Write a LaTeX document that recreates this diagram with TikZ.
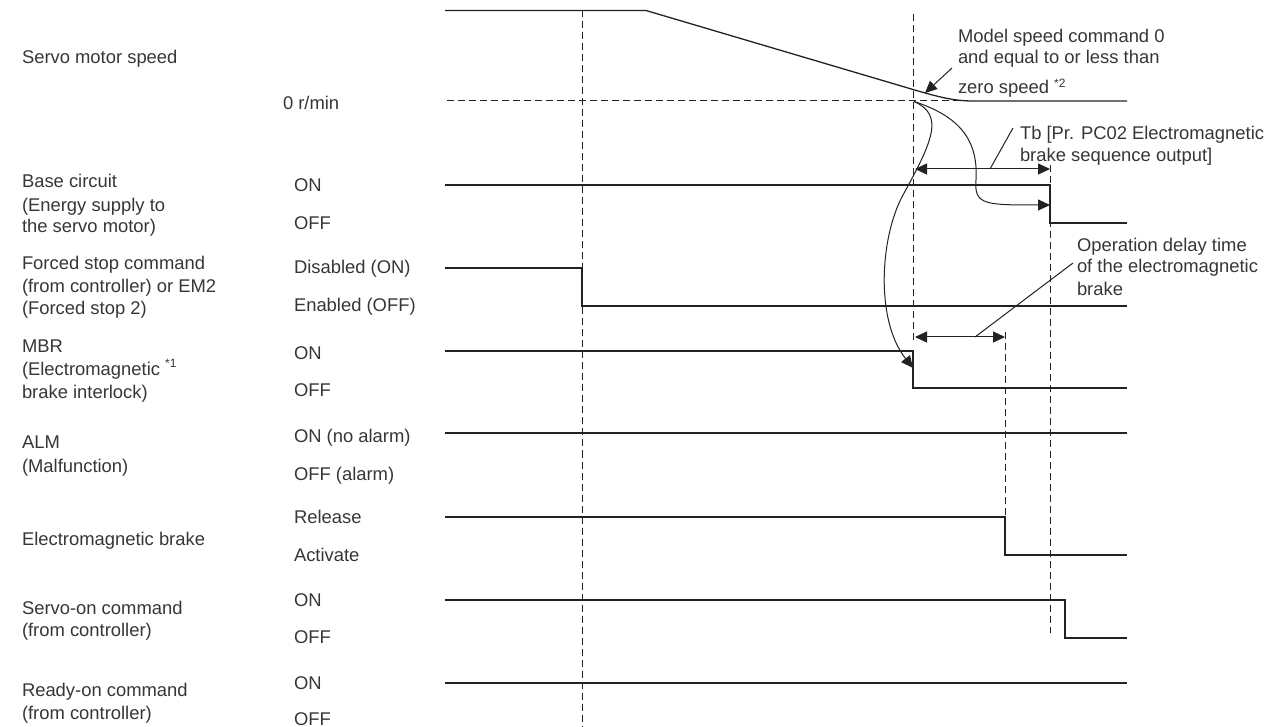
\documentclass[tikz,border=0pt]{standalone}
\usepackage{fontspec}
\setmainfont{Liberation Sans}
\usetikzlibrary{arrows.meta}
\definecolor{linec}{HTML}{222222}
\definecolor{textc}{HTML}{363636}
\begin{document}
\begin{tikzpicture}[x=1pt,y=-1pt,
  sig/.style={line width=1.3pt, draw=linec, line join=miter},
  guide/.style={line width=1pt, draw=linec, dash pattern=on 7pt off 4pt},
  lbl/.style={anchor=base west, inner sep=0pt, outer sep=0pt, text=textc, font=\fontsize{18.4}{22}\selectfont},
  lead/.style={line width=1pt, draw=linec},
  tipend/.style={-{Triangle[length=12pt,width=11pt]}},
  dtip/.style={{Triangle[length=12pt,width=11pt]}-{Triangle[length=12pt,width=11pt]}},
]
\useasboundingbox (0,0) rectangle (1278,727);

% ---------- left labels ----------
\node[lbl] (l1)  at (22,63.5) {Servo motor speed};
\node[lbl] (l2a) at (22,188) {Base circuit};
\node[lbl] (l2b) at (22,211.5) {(Energy supply to};
\node[lbl] (l2c) at (22,233) {the servo motor)};
\node[lbl] (l3a) at (22,270) {Forced stop command};
\node[lbl] (l3b) at (22,292.5) {(from controller) or EM2};
\node[lbl] (l3c) at (22,315) {(Forced stop 2)};
\node[lbl] (l4a) at (22,353) {MBR};
\node[lbl] (l4b) at (22,376) {(Electromagnetic \raisebox{8pt}{\fontsize{12}{12}\selectfont *1}};
\node[lbl] (l4c) at (22,398.5) {brake interlock)};
\node[lbl] (l5a) at (22,449) {ALM};
\node[lbl] (l5b) at (22,472) {(Malfunction)};
\node[lbl] (l6)  at (22,545) {Electromagnetic brake};
\node[lbl] (l7a) at (22,614) {Servo-on command};
\node[lbl] (l7b) at (22,636.5) {(from controller)};
\node[lbl] (l8a) at (22,696.5) {Ready-on command};
\node[lbl] (l8b) at (22,719) {(from controller)};

% ---------- level labels ----------
\node[lbl] (v0)  at (283,110) {0 r/min};
\node[lbl] (v1a) at (294,192) {ON};
\node[lbl] (v1b) at (294,230) {OFF};
\node[lbl] (v2a) at (294,274) {Disabled (ON)};
\node[lbl] (v2b) at (294,311.5) {Enabled (OFF)};
\node[lbl] (v3a) at (294,360) {ON};
\node[lbl] (v3b) at (294,396.5) {OFF};
\node[lbl] (v4a) at (294,442.5) {ON (no alarm)};
\node[lbl] (v4b) at (294,480) {OFF (alarm)};
\node[lbl] (v5a) at (294,523) {Release};
\node[lbl] (v5b) at (294,561.5) {Activate};
\node[lbl] (v6a) at (294,606) {ON};
\node[lbl] (v6b) at (294,643) {OFF};
\node[lbl] (v7a) at (294,689) {ON};
\node[lbl] (v7b) at (294,725) {OFF};

% ---------- annotations ----------
\node[lbl] (a1) at (958,42.3) {Model speed command 0};
\node[lbl] (a2) at (958,64) {and equal to or less than};
\node[lbl] (a3) at (958,94) {zero speed \raisebox{6pt}{\fontsize{12}{12}\selectfont *2}};
\node[lbl] (b1) at (1020,140) {Tb [Pr. PC02 Electromagnetic};
\node[lbl] (b2) at (1020,162) {brake sequence output]};
\node[lbl] (c1) at (1077,251.5) {Operation delay time};
\node[lbl] (c2) at (1077,273) {of the electromagnetic};
\node[lbl] (c3) at (1077,296) {brake};

% ---------- key coordinates ----------
\coordinate (s0) at (445,10.5);
\coordinate (s1) at (646,10.5);
\coordinate (s2) at (913,89.5);
\coordinate (s3) at (973,101);
\coordinate (s4) at (1127,101);
\coordinate (z0) at (447,101);
\coordinate (z1) at (960,101);
\coordinate (t0) at (914,101.5);

% ---------- guide lines ----------
\draw[guide] (z0) -- (z1);
\draw[guide] (582,10.5) -- (582,727);
\draw[guide] (913,14) -- (913,340);
\draw[guide] (1050,165) -- (1050,633);
\draw[guide] (1005,332) -- (1005,517);

% ---------- speed ----------
\draw[sig] (s0) -- (s1) -- (s2) .. controls (940,97.5) and (955,101) .. (s3) -- (s4);

% ---------- signals ----------
\draw[sig] (445,185) -- (1050,185) -- (1050,223) -- (1127,223);
\draw[sig] (445,268) -- (582,268) -- (582,306) -- (1127,306);
\draw[sig] (445,351) -- (913,351) -- (913,388) -- (1127,388);
\draw[sig] (445,433) -- (1127,433);
\draw[sig] (445,517) -- (1005,517) -- (1005,555) -- (1127,555);
\draw[sig] (445,600) -- (1065,600) -- (1065,638) -- (1127,638);
\draw[sig] (445,683) -- (1127,683);

% ---------- arrows ----------
\coordinate (za) at (952,68);
\coordinate (zb) at (925,93);
\draw[lead,tipend] (za) -- (zb);

\coordinate (tbL) at (915,169);
\coordinate (tbR) at (1050,169);
\draw[lead,dtip] (tbL) -- (tbR);
\draw[lead] (990,169) -- (1013,128);

\coordinate (odL) at (915,337);
\coordinate (odR) at (1005,337);
\draw[lead,dtip] (odL) -- (odR);
\draw[lead] (975,337) -- (1073,263);

\coordinate (mbrT) at (913,368);
\coordinate (bcT) at (1050,205);
\draw[lead,tipend] (t0) .. controls (945,115) and (932,142) .. (903,195)
   .. controls (880,237) and (875,320) .. (mbrT);
\draw[lead,tipend] (t0) .. controls (965,118) and (978,145) .. (976,180)
   .. controls (974,205) and (985,205) .. (bcT);
\end{tikzpicture}
\end{document}
